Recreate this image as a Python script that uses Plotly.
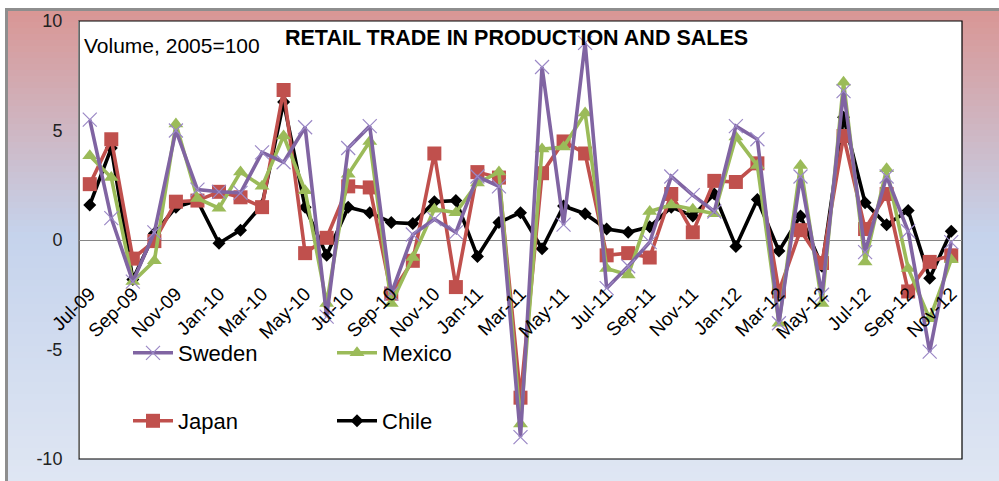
import plotly.graph_objects as go

months = ["Jul-09","Aug-09","Sep-09","Oct-09","Nov-09","Dec-09","Jan-10","Feb-10","Mar-10","Apr-10",
          "May-10","Jun-10","Jul-10","Aug-10","Sep-10","Oct-10","Nov-10","Dec-10","Jan-11","Feb-11",
          "Mar-11","Apr-11","May-11","Jun-11","Jul-11","Aug-11","Sep-11","Oct-11","Nov-11","Dec-11",
          "Jan-12","Feb-12","Mar-12","Apr-12","May-12","Jun-12","Jul-12","Aug-12","Sep-12","Oct-12","Nov-12"]

sweden = [5.5, 1.0, -1.9, 0.35, 5.0, 2.3, 2.2, 2.15, 4.0, 3.55,
          5.15, -3.5, 4.2, 5.2, -2.45, 0.25, 0.95, 0.35, 2.9, 2.45,
          -9.0, 7.9, 0.7, 9.0, -2.2, -1.2, -0.1, 2.9, 2.05, 1.3,
          5.2, 4.6, -3.8, 2.9, -2.5, 6.8, -0.55, 2.9, 0.4, -5.1, -0.1]

mexico = [3.85, 2.85, -1.9, -0.95, 5.3, 1.9, 1.45, 3.1, 2.45, 4.75,
          2.25, -2.9, 3.0, 4.5, -2.9, -0.8, 1.4, 1.25, 2.6, 3.1,
          -8.4, 4.15, 4.25, 5.8, -1.3, -1.6, 1.3, 1.6, 1.4, 1.2,
          4.7, 3.4, -3.8, 3.4, -2.9, 7.2, -1.0, 3.25, -1.3, -3.6, -0.9]

japan = [2.55, 4.6, -0.85, -0.05, 1.75, 1.8, 2.2, 1.95, 1.5, 6.85,
         -0.6, 0.1, 2.45, 2.4, -2.45, -0.95, 3.95, -2.15, 3.1, 2.85,
         -7.2, 3.05, 4.5, 3.95, -0.7, -0.6, -0.8, 2.1, 0.35, 2.7,
         2.65, 3.5, -2.35, 0.45, -1.05, 4.75, 0.5, 2.1, -2.35, -1.0, -0.7]

chile = [1.6, 4.2, -1.8, 0.3, 1.5, 1.8, -0.15, 0.45, 1.6, 6.3,
         1.5, -0.7, 1.5, 1.25, 0.8, 0.75, 1.75, 1.8, -0.75, 0.8,
         1.25, -0.4, 1.55, 1.2, 0.5, 0.35, 0.6, 1.5, 1.1, 2.1,
         -0.3, 1.85, -0.5, 1.1, -1.2, 5.6, 1.7, 0.7, 1.35, -1.75, 0.4]

tick_labels = months[::2]
y_ticks = [-10, -5, 0, 5, 10]

FONT = "Liberation Sans, Arial, sans-serif"
W, H = 999, 481
L, R, T, B = 79, 37, 21, 22
PW, PH = W - L - R, H - T - B


def px_to_paper_x(px):
    return (px - L) / PW


def px_to_paper_y(py):
    return (H - B - py) / PH


fig = go.Figure()

series = [
    ("Chile", chile, "#000000", dict(symbol="diamond", size=10, color="#000000"), "legend4"),
    ("Japan", japan, "#C0504D", dict(symbol="square", size=14, color="#C0504D"), "legend3"),
    ("Mexico", mexico, "#9BBB59", dict(symbol="triangle-up", size=13, color="#9BBB59"), "legend2"),
    ("Sweden", sweden, "#8064A2", dict(symbol="x-thin", size=14, color="#9B88C6",
                                       line=dict(width=1.2, color="#9B88C6")), "legend"),
]
for name, vals, col, mk, lg in series:
    fig.add_trace(go.Scatter(x=months, y=vals, name=name, mode="lines+markers",
                             line=dict(color=col, width=3.6), marker=mk, legend=lg,
                             showlegend=True))

# background gradient (paper) as strips
stops = [(10, (217, 150, 148)), (235, (197, 211, 236)), (481, (223, 230, 243))]


def color_at(py):
    for (y0, c0), (y1, c1) in zip(stops[:-1], stops[1:]):
        if py <= y1:
            t = max(0.0, (py - y0) / (y1 - y0))
            return "rgb(%d,%d,%d)" % tuple(round(a + (b - a) * t) for a, b in zip(c0, c1))
    return "rgb(%d,%d,%d)" % stops[-1][1]


shapes = []
step = 6
py = 10
while py < H:
    shapes.append(dict(type="rect", xref="paper", yref="paper", layer="below",
                       x0=px_to_paper_x(6), x1=px_to_paper_x(1005),
                       y0=px_to_paper_y(py), y1=px_to_paper_y(min(py + step + 1, H + 5)),
                       line=dict(width=0), fillcolor=color_at(py + step / 2)))
    py += step
# outer frame
shapes.append(dict(type="rect", xref="paper", yref="paper", layer="below",
                   x0=px_to_paper_x(6.5), x1=px_to_paper_x(1010),
                   y0=px_to_paper_y(495), y1=px_to_paper_y(9.5),
                   line=dict(width=3, color="#8E8E8E"), fillcolor="rgba(0,0,0,0)"))
# plot area
shapes.append(dict(type="rect", xref="paper", yref="paper", layer="below",
                   x0=0, x1=1, y0=0, y1=1,
                   line=dict(width=1.2, color="#000000"), fillcolor="#FFFFFF"))

legend_common = dict(xanchor="left", yanchor="middle", bgcolor="rgba(0,0,0,0)",
                     font=dict(family=FONT, size=22, color="#000000"), itemwidth=40,
                     borderwidth=0, visible=True)

fig.update_layout(
    width=W, height=H, autosize=False,
    margin=dict(l=L, r=R, t=T, b=B, pad=0),
    paper_bgcolor="#FFFFFF", plot_bgcolor="rgba(0,0,0,0)",
    font=dict(family=FONT, color="#000000"),
    showlegend=True,
    shapes=shapes,
    annotations=[
        dict(text="<b>RETAIL TRADE IN PRODUCTION AND SALES</b>", xref="paper", yref="paper",
             x=px_to_paper_x(516), y=px_to_paper_y(37.5), xanchor="center", yanchor="middle",
             showarrow=False, font=dict(family=FONT, size=21.5, color="#000000")),
        dict(text="Volume, 2005=100", xref="paper", yref="paper",
             x=px_to_paper_x(82), y=px_to_paper_y(45), xanchor="left", yanchor="middle",
             showarrow=False, font=dict(family=FONT, size=21, color="#000000")),
    ],
    xaxis=dict(type="category", categoryorder="array", categoryarray=months,
               range=[-0.5, len(months) - 0.5], anchor="free", position=0.5,
               tickmode="array", tickvals=tick_labels, ticktext=tick_labels,
               tickangle=-45, tickfont=dict(family=FONT, size=19, color="#000000"),
               showgrid=False, zeroline=False, showline=False, ticks="",
               ticklabelstandoff=38),
    yaxis=dict(range=[-10, 10], tickmode="array", tickvals=y_ticks,
               ticktext=[str(v) for v in y_ticks],
               tickfont=dict(family=FONT, size=18, color="#222222"),
               showgrid=False, zeroline=True, zerolinecolor="#868686", zerolinewidth=1,
               showline=True, linecolor="#868686", linewidth=1, ticks="",
               ticklabelstandoff=12),
    legend=dict(x=px_to_paper_x(128), y=px_to_paper_y(353), **legend_common),
    legend2=dict(x=px_to_paper_x(332), y=px_to_paper_y(353), **legend_common),
    legend3=dict(x=px_to_paper_x(128), y=px_to_paper_y(421), **legend_common),
    legend4=dict(x=px_to_paper_x(332), y=px_to_paper_y(421), **legend_common),
)

fig.write_html("out.html", config={"displayModeBar": False},
               post_script="document.body.style.margin='0';")
